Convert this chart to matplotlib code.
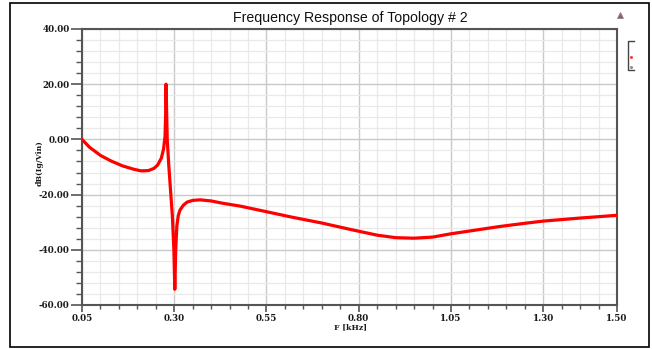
import matplotlib
matplotlib.use("Agg")
import matplotlib.pyplot as plt
from matplotlib.lines import Line2D
from matplotlib.patches import Rectangle
from matplotlib.ticker import MultipleLocator, FixedLocator
import numpy as np

# Frequency response samples: frequency in kHz, magnitude in dB(Ig/Vin)
freq_khz = [0.05, 0.07, 0.10, 0.13, 0.16, 0.19, 0.21, 0.23, 0.245, 0.255,
            0.265, 0.271, 0.275, 0.2765, 0.2778, 0.281, 0.285, 0.290, 0.295,
            0.299, 0.3015, 0.304, 0.307, 0.311, 0.316, 0.325, 0.335, 0.35,
            0.37, 0.40, 0.43, 0.48, 0.55, 0.62, 0.70, 0.78, 0.85, 0.90,
            0.95, 1.00, 1.05, 1.10, 1.18, 1.25, 1.30, 1.40, 1.50]
gain_db = [0.0, -2.8, -5.8, -7.9, -9.6, -10.8, -11.4, -11.3, -10.5, -9.3,
           -6.8, -3.5, 1.0, 8.0, 20.0, 0.0, -9.0, -18.5, -28.0,
           -40.0, -54.3, -40.0, -31.5, -27.5, -25.5, -23.8, -22.7, -22.1,
           -21.9, -22.3, -23.1, -24.2, -26.2, -28.2, -30.3, -32.7, -34.7, -35.6,
           -35.8, -35.4, -34.2, -33.2, -31.6, -30.4, -29.6, -28.5, -27.5]

x_ticks = [0.05, 0.30, 0.55, 0.80, 1.05, 1.30, 1.50]
x_tick_labels = ["0.05", "0.30", "0.55", "0.80", "1.05", "1.30", "1.50"]
y_ticks = [-60, -40, -20, 0, 20, 40]
y_tick_labels = ["-60.00", "-40.00", "-20.00", "0.00", "20.00", "40.00"]

W, H = 652, 349
fig = plt.figure(figsize=(W / 100, H / 100), dpi=100)
fig.patch.set_facecolor("white")

# outer frame
fig.patches.append(Rectangle((10 / W, 1 - 347 / H), 639 / W, 344 / H,
                             transform=fig.transFigure, fill=False,
                             edgecolor="black", linewidth=1.2))

ax = fig.add_axes([82 / W, 1 - 305 / H, 535 / W, 276 / H])
ax.plot(freq_khz, gain_db, color="#ff0000", linewidth=2.3,
        solid_joinstyle="round", zorder=3)

ax.set_xlim(0.05, 1.50)
ax.set_ylim(-60, 40)

ax.xaxis.set_major_locator(FixedLocator(x_ticks))
ax.set_xticklabels(x_tick_labels)
ax.xaxis.set_minor_locator(FixedLocator(np.arange(0.05, 1.5001, 0.05)))
ax.yaxis.set_major_locator(FixedLocator(y_ticks))
ax.set_yticklabels(y_tick_labels)
ax.yaxis.set_minor_locator(MultipleLocator(4))

ax.grid(which="major", color="#c9c9c9", linewidth=1.0, zorder=0)
ax.grid(which="minor", color="#e9e9e9", linewidth=0.9, zorder=0)
ax.set_axisbelow(True)

for side in ("left", "right", "top", "bottom"):
    ax.spines[side].set_color("#555555")
    ax.spines[side].set_linewidth(1.5)

ax.tick_params(axis="y", which="major", direction="out", length=8, width=1.2,
               color="#555555", pad=1)
ax.tick_params(axis="y", which="minor", direction="out", length=4, width=1.0,
               color="#555555")
ax.tick_params(axis="x", which="major", direction="out", length=5, width=1.2,
               color="#555555", pad=1.2)
ax.tick_params(axis="x", which="minor", direction="out", length=3, width=1.0,
               color="#555555")
for lab in ax.get_xticklabels() + ax.get_yticklabels():
    lab.set_fontfamily("DejaVu Serif")
    lab.set_fontweight("bold")
    lab.set_fontsize(6.3)
    lab.set_color("#1a1a1a")

label_font = dict(family="DejaVu Serif", weight="bold", size=5.6,
                  color="#1a1a1a")
fig.text(350 / W, 1 - 18 / H, "Frequency Response of Topology # 2",
         ha="center", va="center", family="Liberation Sans", size=10.2,
         color="#111111")
fig.text(40 / W, 1 - 163 / H, "dB(Ig/Vin)", rotation=90, ha="center",
         va="center", **label_font)
fig.text(350 / W, 1 - 327 / H, "F [kHz]", ha="center", va="center",
         **label_font)

# small marker and legend bracket at the upper right
fig.lines.append(Line2D([620 / W], [1 - 15 / H], marker="^", markersize=5,
                        color="#b05050", markeredgecolor="#888888",
                        markeredgewidth=0.6, transform=fig.transFigure))
fig.lines.append(Line2D([634 / W, 628 / W, 628 / W, 634 / W],
                        [1 - 41 / H, 1 - 41 / H, 1 - 70 / H, 1 - 70 / H],
                        color="#444444", linewidth=1.0,
                        transform=fig.transFigure))
fig.lines.append(Line2D([631 / W], [1 - 57 / H], marker="s", markersize=1,
                        color="#ff3030", linestyle="none",
                        transform=fig.transFigure))
fig.lines.append(Line2D([631 / W], [1 - 67 / H], marker="s", markersize=1,
                        color="#888888", linestyle="none",
                        transform=fig.transFigure))

fig.savefig("out.png", dpi=100)
